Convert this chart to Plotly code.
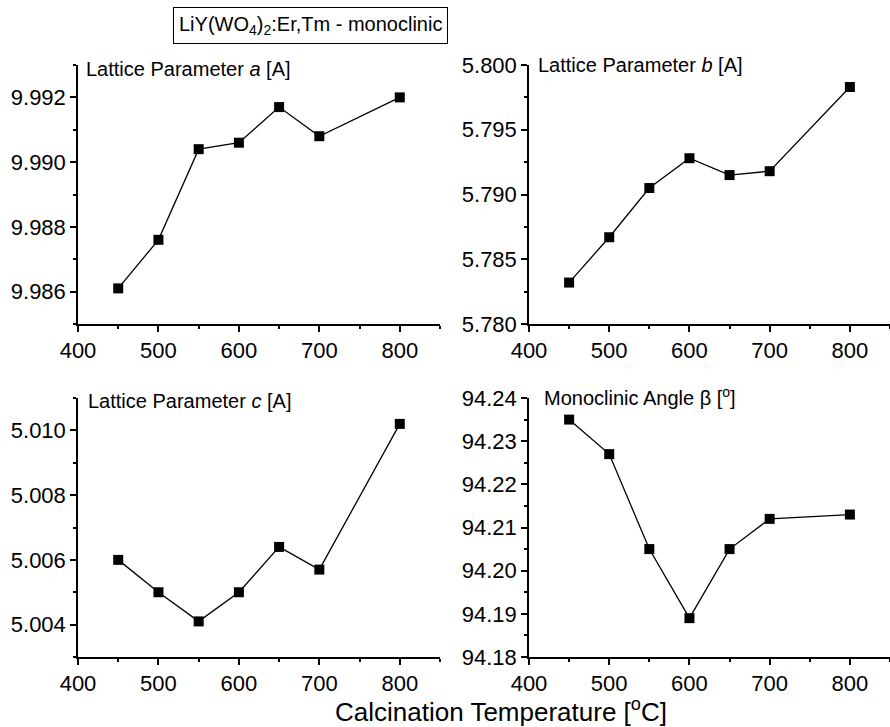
import plotly.graph_objects as go

# Calcination temperatures (°C)
temperature = [450, 500, 550, 600, 650, 700, 800]

# Lattice parameters of monoclinic LiY(WO4)2:Er,Tm
lattice_a = [9.9861, 9.9876, 9.9904, 9.9906, 9.9917, 9.9908, 9.9920]
lattice_b = [5.7832, 5.7867, 5.7905, 5.7928, 5.7915, 5.7918, 5.7983]
lattice_c = [5.0060, 5.0050, 5.0041, 5.0050, 5.0064, 5.0057, 5.0102]
angle_beta = [94.235, 94.227, 94.205, 94.189, 94.205, 94.212, 94.213]

panel_labels = [
    "Lattice Parameter <i>a</i> [A]",
    "Lattice Parameter <i>b</i> [A]",
    "Lattice Parameter <i>c</i> [A]",
    "Monoclinic Angle \u03b2 [<sup>o</sup>]",
]

W, H = 890, 727
FONT = "Liberation Sans, Arial, sans-serif"

# pixel boxes (left, right, top, bottom) for each panel
boxes = [
    (78, 440, 65, 324),
    (529, 890, 65, 324),
    (78, 440, 398, 657),
    (529, 890, 398, 657),
]
y_ranges = [(9.985, 9.993), (5.780, 5.800), (5.003, 5.011), (94.18, 94.24)]
y_tick0 = [9.986, 5.780, 5.004, 94.18]
y_dticks = [0.002, 0.005, 0.002, 0.01]
y_formats = [".3f", ".3f", ".3f", ".2f"]
series = [lattice_a, lattice_b, lattice_c, angle_beta]
label_pos = [(84, 69), (536, 65), (86, 401), (542, 396)]

fig = go.Figure()
layout = {}
for i, (box, yr, t0, dt, fmt, ys) in enumerate(
        zip(boxes, y_ranges, y_tick0, y_dticks, y_formats, series)):
    n = "" if i == 0 else str(i + 1)
    l, r, t, b = box
    fig.add_trace(go.Scatter(
        x=temperature, y=ys, mode="lines+markers",
        line=dict(color="black", width=1.3),
        marker=dict(symbol="square", size=10, color="black"),
        xaxis="x" + n, yaxis="y" + n, showlegend=False, cliponaxis=False,
    ))
    layout["xaxis" + n] = dict(
        domain=[l / W, r / W], anchor="y" + n, range=[400, 850],
        tick0=400, dtick=100, ticks="outside", ticklen=6, tickwidth=1.5,
        tickcolor="black", showline=True, linecolor="black", linewidth=1.5,
        showgrid=False, zeroline=False,
        tickfont=dict(family=FONT, size=22, color="black"),
        minor=dict(dtick=50, tick0=400, ticks="outside", ticklen=3.5,
                   tickwidth=1.5, tickcolor="black", showgrid=False),
        automargin=False,
    )
    layout["yaxis" + n] = dict(
        domain=[1 - b / H, 1 - t / H], anchor="x" + n, range=list(yr),
        tick0=t0, dtick=dt, tickformat=fmt, ticks="outside", ticklen=6,
        tickwidth=1.5, tickcolor="black", showline=True, linecolor="black",
        linewidth=1.5, showgrid=False, zeroline=False,
        tickfont=dict(family=FONT, size=22, color="black"),
        minor=dict(dtick=dt / 2, tick0=yr[0], ticks="outside", ticklen=3.5,
                   tickwidth=1.5, tickcolor="black", showgrid=False),
        automargin=False,
    )

annotations = []
for text, (px, py) in zip(panel_labels, label_pos):
    annotations.append(dict(
        text=text, x=px / W, y=1 - py / H, xref="paper", yref="paper",
        xanchor="left", yanchor="middle", showarrow=False,
        font=dict(family=FONT, size=20, color="black"),
    ))

annotations.append(dict(
    text="LiY(WO<sub>4</sub>)<sub>2</sub>:Er,Tm - monoclinic",
    x=310 / W, y=1 - 26 / H, xref="paper", yref="paper",
    xanchor="center", yanchor="middle", showarrow=False,
    font=dict(family=FONT, size=20, color="black"),
    bordercolor="black", borderwidth=1, borderpad=5, bgcolor="white",
))

annotations.append(dict(
    text="Calcination Temperature [<sup>o</sup>C]",
    x=501 / W, y=1 - 710 / H, xref="paper", yref="paper",
    xanchor="center", yanchor="middle", showarrow=False,
    font=dict(family=FONT, size=26, color="black"),
))

fig.update_layout(
    width=W, height=H,
    margin=dict(l=0, r=0, t=0, b=0),
    paper_bgcolor="white", plot_bgcolor="white",
    annotations=annotations,
    **layout,
)

fig.write_html("out.html")
